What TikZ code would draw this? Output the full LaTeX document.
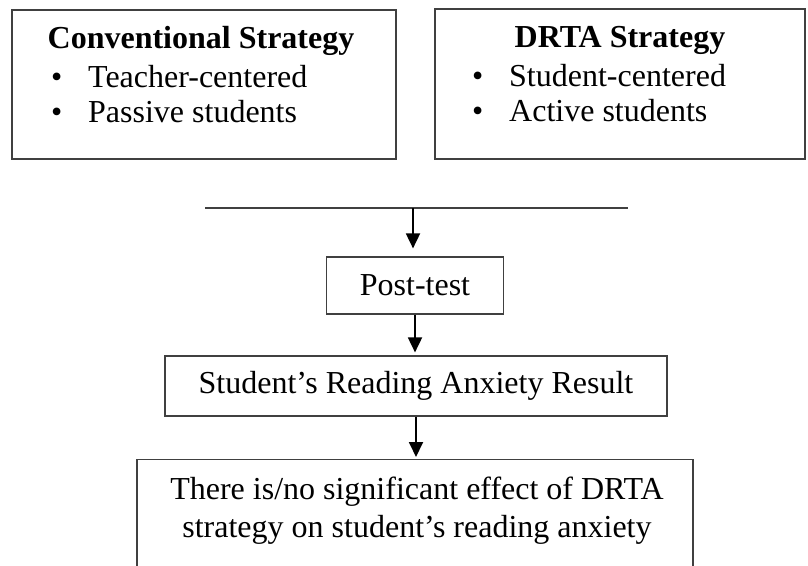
\documentclass[tikz,border=0pt]{standalone}
\usepackage{fontspec}
\setmainfont{Liberation Serif}
\usetikzlibrary{positioning}
\usetikzlibrary{calc}
\usetikzlibrary{arrows.meta}

\tikzset{
	frame/.style={draw=black!75, line width=1.2pt, inner sep=0pt},
	txt/.style={inner sep=0pt, font=\fontsize{32}{38}\selectfont},
	head/.style={inner sep=0pt, font=\fontsize{32}{38}\selectfont\bfseries},
	flow/.style={-{Triangle[length=15pt,width=14pt]}, line width=1.8pt},
}
\newcommand{\bul}{\makebox[37pt][l]{\textbullet}}

\begin{document}
\begin{tikzpicture}[x=1pt, y=-1pt]
		\clip (0,0) rectangle (808,565);
		
		% the two strategies
		\node[frame, minimum width=384pt, minimum height=149pt] (conv) at (204,84.5) {};
		\node[head, anchor=base] (convhead) at (201,48) {Conventional Strategy};
		\node[txt, anchor=base west] (conv1) at (51,87) {\bul Teacher-centered};
		\node[txt, anchor=base west] (conv2) at (51,122) {\bul Passive students};
		
		\node[frame, minimum width=370pt, minimum height=150pt] (drta) at (620,84) {};
		\node[head, anchor=base] (drtahead) at (620,47) {DRTA Strategy};
		\node[txt, anchor=base west] (drta1) at (472,86) {\bul Student-centered};
		\node[txt, anchor=base west] (drta2) at (472,121) {\bul Active students};
		
		% joining line
		\coordinate (joinL) at (205,208);
		\coordinate (joinR) at (628,208);
		\coordinate (join) at (413,208);
		\draw[draw=black!75, line width=1.2pt] (joinL) -- (joinR);
		
		% flow downwards
		\node[frame, txt, minimum width=177pt, minimum height=57pt] (post) at (415,285.5) {Post-test};
		\node[frame, txt, minimum width=502pt, minimum height=60pt] (result) at (416,386) {Student’s Reading Anxiety Result};
		\node[frame, minimum width=556pt, minimum height=200pt, anchor=north] (concl) at (415,459) {};
		\node[txt, align=center, anchor=base] (concltxt) at (417,537) {There is/no significant effect of DRTA\\strategy on student’s reading anxiety};
		
		\draw[flow, shorten >=8pt] (join) -- (join |- post.north);
		\draw[flow, shorten >=3pt] (post.south) -- (post.south |- result.north);
		\draw[flow, shorten >=2pt] (result.south) -- (result.south |- concl.north);
	\end{tikzpicture}
\end{document}
